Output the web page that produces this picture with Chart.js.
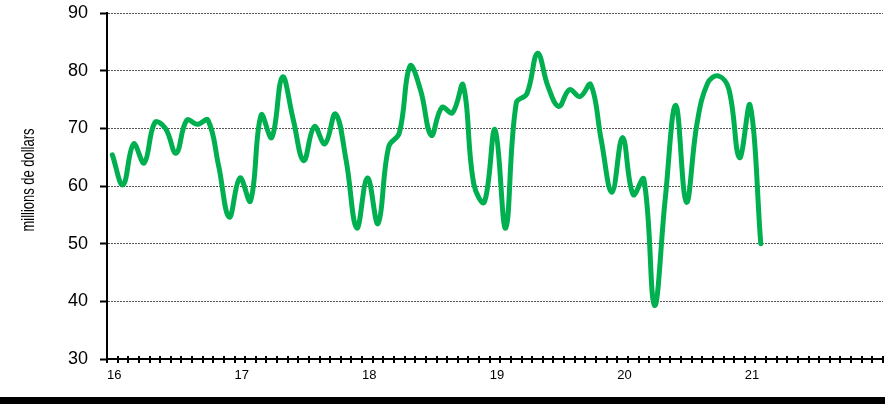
<!DOCTYPE html>
<html>
<head>
<meta charset="utf-8">
<script src="https://cdn.jsdelivr.net/npm/chart.js@4/dist/chart.umd.min.js"></script>
<style>
  html, body { margin: 0; padding: 0; background: #fff; }
  #wrap { position: relative; width: 885px; height: 404px; overflow: hidden; }
  #bar { position: absolute; left: 0; top: 397px; width: 885px; height: 7px; background: #000; }
</style>
</head>
<body>
<div id="wrap">
  <canvas id="c" width="885" height="404"></canvas>
  <div id="bar"></div>
</div>
<script>
// Monthly values, Jan 2016 to Feb 2021 (millions de dollars)
const months = [
  '2016-01','2016-02','2016-03','2016-04','2016-05','2016-06','2016-07','2016-08','2016-09','2016-10','2016-11','2016-12',
  '2017-01','2017-02','2017-03','2017-04','2017-05','2017-06','2017-07','2017-08','2017-09','2017-10','2017-11','2017-12',
  '2018-01','2018-02','2018-03','2018-04','2018-05','2018-06','2018-07','2018-08','2018-09','2018-10','2018-11','2018-12',
  '2019-01','2019-02','2019-03','2019-04','2019-05','2019-06','2019-07','2019-08','2019-09','2019-10','2019-11','2019-12',
  '2020-01','2020-02','2020-03','2020-04','2020-05','2020-06','2020-07','2020-08','2020-09','2020-10','2020-11','2020-12',
  '2021-01','2021-02'
];
const values = [
  65.4, 60.2, 67.3, 64.0, 71.0, 70.0, 65.7, 71.4, 70.7, 71.4, 63.5, 54.6,
  61.4, 57.4, 72.3, 68.4, 78.9, 71.7, 64.4, 70.3, 67.3, 72.5, 64.4, 52.7,
  61.4, 53.5, 66.8, 69.2, 80.8, 76.6, 68.8, 73.6, 72.7, 77.5, 60.4, 57.2,
  69.8, 52.7, 74.4, 76.0, 83.0, 77.2, 73.8, 76.7, 75.5, 77.6, 67.9, 58.9,
  68.4, 58.5, 61.2, 39.3, 57.5, 74.0, 57.2, 70.8, 77.8, 79.1, 76.8, 64.9,
  74.0, 50.0
];
const yearLabels = ['16', '17', '18', '19', '20', '21'];
const yTicks = [30, 40, 50, 60, 70, 80, 90];
const yTitle = 'millions de dollars';
const axisMonths = 73; // monthly tick marks shown on the time axis

const points = values.map((v, i) => ({ x: i + 0.5, y: v }));

const crossTicks = {
  id: 'crossTicks',
  afterDraw(chart) {
    const xs = chart.scales.x;
    const ctx = chart.ctx;
    const yb = chart.chartArea.bottom;
    ctx.save();
    ctx.strokeStyle = '#000';
    ctx.lineWidth = 2;
    for (let m = 0; m <= axisMonths; m++) {
      const px = Math.round(xs.getPixelForValue(m));
      ctx.beginPath();
      ctx.moveTo(px, yb - 3);
      ctx.lineTo(px, yb + 4);
      ctx.stroke();
    }
    ctx.restore();
  }
};

// Narrow-looking rotated axis title (condensed along the text direction)
const narrowTitle = {
  id: 'narrowTitle',
  afterDraw(chart) {
    const ys = chart.scales.y;
    const ctx = chart.ctx;
    const cy = (ys.top + ys.bottom) / 2 - 6;
    ctx.save();
    ctx.translate(29, cy);
    ctx.rotate(-Math.PI / 2);
    ctx.scale(0.72, 1);
    ctx.font = "18px 'Liberation Sans', Arial, sans-serif";
    ctx.fillStyle = '#000';
    ctx.textAlign = 'center';
    ctx.textBaseline = 'middle';
    ctx.fillText(yTitle, 0, 0);
    ctx.restore();
  }
};

function noPad(s) { s.paddingTop = 0; s.paddingBottom = 0; s.paddingLeft = 0; s.paddingRight = 0; }

new Chart(document.getElementById('c'), {
  type: 'line',
  data: {
    datasets: [{
      data: points,
      borderColor: '#00B050',
      borderWidth: 5,
      pointRadius: 0,
      tension: 0.4,
      fill: false,
      borderCapStyle: 'round',
      borderJoinStyle: 'round'
    }]
  },
  options: {
    responsive: false,
    animation: false,
    devicePixelRatio: 1,
    layout: { padding: { top: 13, right: 2, left: 0, bottom: 0 } },
    plugins: { legend: { display: false }, tooltip: { enabled: false } },
    scales: {
      x: {
        type: 'linear',
        min: 0,
        max: axisMonths,
        afterFit(s) { s.height = 45; noPad(s); },
        grid: { display: true, drawOnChartArea: false, drawTicks: false },
        border: { display: true, color: '#000', width: 2 },
        afterBuildTicks(s) {
          const t = [];
          for (let m = 0; m <= axisMonths; m++) t.push({ value: m });
          s.ticks = t;
        },
        ticks: {
          autoSkip: false,
          maxRotation: 0,
          minRotation: 0,
          align: 'start',
          padding: 9,
          color: '#000',
          font: { family: "'Liberation Sans', Arial, sans-serif", size: 13 },
          callback(v) {
            const k = Math.round(v);
            if (k % 12 === 0 && k / 12 < yearLabels.length) return yearLabels[k / 12];
            return '';
          }
        }
      },
      y: {
        min: 30,
        max: 90,
        afterFit(s) { s.width = 107; noPad(s); },
        afterBuildTicks(s) { s.ticks = yTicks.map(v => ({ value: v })); },
        grid: {
          color: (c) => (c.tick && c.tick.value === 30 ? 'rgba(0,0,0,0)' : '#555'),
          lineWidth: 1,
          drawTicks: true,
          tickLength: 7,
          tickColor: '#000',
          tickWidth: 2
        },
        border: { display: true, color: '#000', width: 2, dash: [2, 1] },
        ticks: {
          padding: 12,
          color: '#000',
          font: { family: "'Liberation Sans', Arial, sans-serif", size: 18 }
        },
        title: { display: false }
      }
    }
  },
  plugins: [crossTicks, narrowTitle]
});
</script>
</body>
</html>
